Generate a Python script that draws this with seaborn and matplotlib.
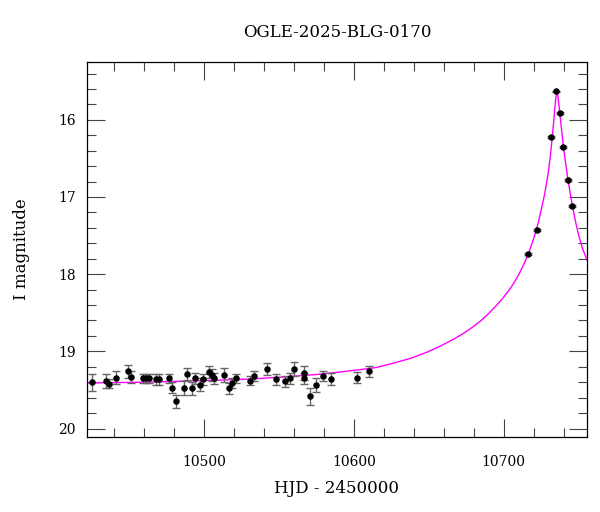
import matplotlib

matplotlib.use("Agg")
import matplotlib.pyplot as plt
import numpy as np
import pandas as pd
import seaborn as sns
from matplotlib.ticker import MultipleLocator

# OGLE photometry (HJD - 2450000, I mag, error)
hjd = [10425.5, 10434.7, 10436.9, 10441.3, 10449.1, 10451.1, 10459.1, 10461.1,
       10463.5, 10468.0, 10470.0, 10476.9, 10478.9, 10481.1, 10486.7, 10488.5,
       10491.8, 10494.0, 10497.3, 10499.3, 10503.3, 10505.1, 10506.5, 10513.3,
       10516.7, 10518.5, 10521.3, 10530.5, 10533.3, 10542.2, 10548.0, 10554.0,
       10557.7, 10560.0, 10566.7, 10566.9, 10570.7, 10574.7, 10579.7, 10584.5,
       10602.1, 10610.0, 10716.2, 10722.2, 10731.8, 10735.1, 10737.8, 10739.5,
       10742.9, 10745.5]
mag = [19.40, 19.39, 19.42, 19.34, 19.26, 19.33, 19.35, 19.35,
       19.35, 19.36, 19.36, 19.35, 19.47, 19.65, 19.48, 19.29,
       19.48, 19.35, 19.43, 19.36, 19.27, 19.31, 19.35, 19.31,
       19.48, 19.41, 19.35, 19.38, 19.32, 19.23, 19.36, 19.39,
       19.35, 19.23, 19.28, 19.35, 19.58, 19.44, 19.32, 19.36,
       19.34, 19.26, 17.74, 17.43, 16.22, 15.63, 15.91, 16.35,
       16.78, 17.12]
err = [0.11, 0.09, 0.06, 0.08, 0.08, 0.08, 0.06, 0.06,
       0.06, 0.07, 0.07, 0.06, 0.07, 0.09, 0.09, 0.08,
       0.08, 0.07, 0.08, 0.07, 0.08, 0.08, 0.07, 0.09,
       0.07, 0.07, 0.06, 0.06, 0.06, 0.08, 0.07, 0.07,
       0.07, 0.09, 0.09, 0.07, 0.11, 0.09, 0.07, 0.08,
       0.07, 0.07, 0.015, 0.015, 0.012, 0.010, 0.012, 0.012,
       0.015, 0.015]

# model curve
model_hjd = [10422, 10460, 10500, 10530, 10555, 10575, 10590, 10603, 10615,
             10627, 10638, 10649, 10658, 10666, 10673, 10679, 10685, 10690,
             10695, 10699.5, 10703.5, 10707, 10710.5, 10713.5, 10716.5,
             10719, 10721.5, 10723.5, 10725.5, 10727.5, 10729.5, 10731,
             10732.5, 10733.7, 10734.6, 10735.2, 10735.5, 10735.8, 10736.4,
             10737.3, 10738.5, 10740, 10741.5, 10743, 10744.5, 10746,
             10748, 10750, 10752.5, 10756]
model_mag = [19.41, 19.40, 19.38, 19.36, 19.33, 19.30, 19.27, 19.24, 19.21,
             19.15, 19.09, 19.01, 18.93, 18.85, 18.77, 18.69, 18.60, 18.51,
             18.41, 18.31, 18.21, 18.11, 17.99, 17.87, 17.74,
             17.60, 17.45, 17.30, 17.13, 16.95, 16.72, 16.50,
             16.22, 15.96, 15.76, 15.65, 15.61, 15.63, 15.72,
             15.88, 16.10, 16.36, 16.58, 16.78, 16.96, 17.12,
             17.32, 17.49, 17.66, 17.83]

data = pd.DataFrame({"hjd": hjd, "mag": mag, "err": err})
model = pd.DataFrame({"hjd": model_hjd, "mag": model_mag})

sns.set_style("ticks")
plt.rcParams["font.family"] = ["DejaVu Serif"]
plt.rcParams["text.color"] = "black"
plt.rcParams["axes.labelcolor"] = "black"
plt.rcParams["xtick.color"] = "black"
plt.rcParams["ytick.color"] = "black"

fig = plt.figure(figsize=(6, 5.12), dpi=100)
ax = fig.add_axes([0.145, 0.1465, 0.833, 0.7325])

sns.lineplot(data=model, x="hjd", y="mag", color="#ff00ff", linewidth=1.0,
             sort=False, ax=ax, zorder=2)
ax.errorbar(data["hjd"], data["mag"], yerr=data["err"], fmt="none",
            ecolor="#666666", elinewidth=1.0, capsize=3, capthick=1.0, zorder=3)
sns.scatterplot(data=data, x="hjd", y="mag", color="black", s=22,
                edgecolor="black", linewidth=0, ax=ax, zorder=4)

ax.set_xlim(10422, 10755.5)
ax.set_ylim(20.11, 15.25)
ax.xaxis.set_major_locator(MultipleLocator(100))
ax.xaxis.set_minor_locator(MultipleLocator(20))
ax.yaxis.set_major_locator(MultipleLocator(1))
ax.yaxis.set_minor_locator(MultipleLocator(0.2))
ax.tick_params(which="both", direction="in", top=True, right=True,
               color="#444444", width=0.8, labelsize=10)
ax.tick_params(axis="x", pad=13)
ax.tick_params(axis="y", pad=8)
ax.tick_params(which="major", length=13)
ax.tick_params(which="minor", length=6.5)
for spine in ax.spines.values():
    spine.set_linewidth(0.9)
    spine.set_color("black")

ax.set_xlabel("HJD - 2450000", fontsize=12, labelpad=8)
ax.set_ylabel("I magnitude", fontsize=12, labelpad=20)
ax.set_title("OGLE-2025-BLG-0170", fontsize=12, pad=18)

fig.savefig("out.png", dpi=100)
plt.close(fig)
